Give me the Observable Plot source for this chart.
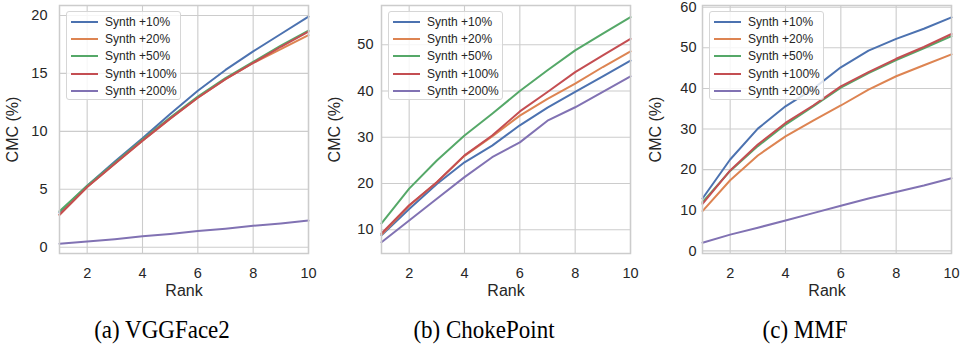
<!DOCTYPE html>
<html>
<head>
<meta charset="utf-8">
<script src="https://cdn.jsdelivr.net/npm/d3@7"></script>
<script src="https://cdn.jsdelivr.net/npm/@observablehq/plot@0.6"></script>
<style>
  html, body { margin: 0; padding: 0; background: #ffffff; }
  #root { position: relative; width: 961px; height: 349px; overflow: hidden; background: #fff; }
  .panel { position: absolute; top: 0; }
  .legend { position: absolute; box-sizing: border-box; border: 1px solid #d6d6d6; border-radius: 3px;
            background: rgba(255,255,255,0.82); font-family: "Liberation Sans", Arial, sans-serif;
            font-size: 12px; color: #262626; }
  .legend .row { position: absolute; left: 0; height: 14px; line-height: 14px; white-space: nowrap; }
  .legend .sw { position: absolute; left: 4px; top: 6px; width: 27px; height: 2px; }
  .legend .tx { position: absolute; left: 38px; top: 0; }
  .caption { position: absolute; top: 318px; font-family: "Liberation Serif", "Times New Roman", serif;
             font-size: 23px; line-height: 1; color: #000; white-space: nowrap; transform: translateX(-50%) scaleY(1.08); }
</style>
</head>
<body>
<div id="root"></div>
<script>
// ---- data ----
const ranks = [1, 2, 3, 4, 5, 6, 7, 8, 9, 10];
const seriesNames = ["Synth +10%", "Synth +20%", "Synth +50%", "Synth +100%", "Synth +200%"];
const palette = ["#4c72b0", "#dd8452", "#55a868", "#c44e52", "#8172b3"];

// (a) VGGFace2, one array per series (order as seriesNames)
const vggValues = [
  [3.0, 5.3, 7.4, 9.4, 11.5, 13.5, 15.3, 16.9, 18.4, 19.9],
  [2.8, 5.2, 7.2, 9.2, 11.1, 12.9, 14.5, 15.9, 17.1, 18.3],
  [3.1, 5.3, 7.3, 9.3, 11.2, 13.0, 14.6, 16.0, 17.4, 18.7],
  [2.8, 5.2, 7.2, 9.2, 11.1, 12.9, 14.5, 15.9, 17.3, 18.6],
  [0.3, 0.5, 0.7, 0.95, 1.15, 1.4, 1.6, 1.85, 2.05, 2.3]
];
// (b) ChokePoint
const chokeValues = [
  [8.8, 14.5, 19.9, 24.6, 28.2, 32.6, 36.4, 39.8, 43.2, 46.6],
  [9.0, 15.2, 20.3, 26.0, 30.2, 34.7, 38.3, 41.6, 45.2, 48.6],
  [11.4, 18.9, 25.0, 30.4, 35.1, 40.0, 44.5, 48.8, 52.4, 56.0],
  [9.2, 15.3, 20.3, 26.1, 30.4, 35.6, 39.8, 44.1, 47.7, 51.3],
  [7.3, 12.0, 16.7, 21.4, 25.7, 28.9, 33.6, 36.5, 39.8, 43.2]
];
// (c) MMF
const mmfValues = [
  [12.9, 22.5, 30.1, 35.6, 39.9, 45.2, 49.3, 52.2, 54.7, 57.5],
  [9.8, 17.4, 23.5, 28.2, 32.1, 35.8, 39.7, 43.0, 45.7, 48.4],
  [12.0, 19.7, 25.8, 31.1, 35.6, 40.2, 43.8, 47.0, 49.9, 52.9],
  [11.6, 19.8, 26.2, 31.5, 35.8, 40.5, 44.0, 47.3, 50.2, 53.4],
  [2.0, 4.0, 5.7, 7.5, 9.3, 11.1, 12.9, 14.5, 16.1, 17.9]
];

const xTicks = [2, 4, 6, 8, 10];
const vggYTicks = [0, 5, 10, 15, 20];
const chokeYTicks = [10, 20, 30, 40, 50];
const mmfYTicks = [0, 10, 20, 30, 40, 50, 60];
const captions = ["(a) VGGFace2", "(b) ChokePoint", "(c) MMF"];

// ---- layout ----
const panels = [
  {values: vggValues, yTicks: vggYTicks, yDomain: [-0.54, 20.86], left: 0, width: 320, ml: 59, mr: 12, ytp: 12, capX: 162},
  {values: chokeValues, yTicks: chokeYTicks, yDomain: [4.88, 58.5], left: 320, width: 320, ml: 61, mr: 10, ytp: 8, capX: 484},
  {values: mmfValues, yTicks: mmfYTicks, yDomain: [-0.64, 60.42], left: 640, width: 321, ml: 62, mr: 10, ytp: 6, capX: 805}
];

const root = document.getElementById("root");
const gridColor = "#cccccc";
const textColor = "#262626";

panels.forEach((p, pi) => {
  const rows = [];
  p.values.forEach((arr, si) => arr.forEach((v, i) => rows.push({rank: ranks[i], value: v, series: seriesNames[si]})));

  const chart = Plot.plot({
    width: p.width,
    height: 300,
    marginLeft: p.ml,
    marginRight: p.mr,
    marginTop: 5,
    marginBottom: 47,
    style: {fontFamily: "'Liberation Sans', Arial, sans-serif", color: textColor, background: "transparent", overflow: "visible"},
    x: {domain: [1, 10]},
    y: {domain: p.yDomain},
    color: {domain: seriesNames, range: palette},
    marks: [
      Plot.gridX(xTicks, {stroke: gridColor, strokeOpacity: 1, strokeWidth: 1.1}),
      Plot.gridY(p.yTicks, {stroke: gridColor, strokeOpacity: 1, strokeWidth: 1.1}),
      Plot.axisX(xTicks, {tickSize: 0, tickPadding: 14, fontSize: 14.5, label: null, fill: textColor}),
      Plot.axisX([], {label: "Rank", labelAnchor: "center", labelArrow: "none", labelOffset: 42, fontSize: 16, fill: textColor}),
      Plot.axisY(p.yTicks, {tickSize: 0, tickPadding: p.ytp, fontSize: 14.5, label: null, fill: textColor}),
      Plot.axisY([], {label: "CMC (%)", labelAnchor: "center", labelArrow: "none", labelOffset: 53, fontSize: 16, fill: textColor}),
      Plot.lineY(rows, {x: "rank", y: "value", stroke: "series", strokeWidth: 2, curve: "linear"}),
      Plot.frame({stroke: gridColor, strokeWidth: 1.5})
    ]
  });

  const wrap = document.createElement("div");
  wrap.className = "panel";
  wrap.style.left = p.left + "px";
  wrap.style.width = p.width + "px";
  wrap.appendChild(chart);

  // legend overlay
  const lg = document.createElement("div");
  lg.className = "legend";
  lg.style.left = (p.ml + 7) + "px";
  lg.style.top = "11px";
  lg.style.width = "115px";
  lg.style.height = "89px";
  seriesNames.forEach((name, si) => {
    const r = document.createElement("div");
    r.className = "row";
    r.style.top = (3 + si * 17.2) + "px";
    r.style.width = "100%";
    const sw = document.createElement("div");
    sw.className = "sw";
    sw.style.background = palette[si];
    const tx = document.createElement("span");
    tx.className = "tx";
    tx.textContent = name;
    r.appendChild(sw);
    r.appendChild(tx);
    lg.appendChild(r);
  });
  wrap.appendChild(lg);
  root.appendChild(wrap);

  const cap = document.createElement("div");
  cap.className = "caption";
  cap.style.left = p.capX + "px";
  cap.textContent = captions[pi];
  root.appendChild(cap);
});
</script>
</body>
</html>
